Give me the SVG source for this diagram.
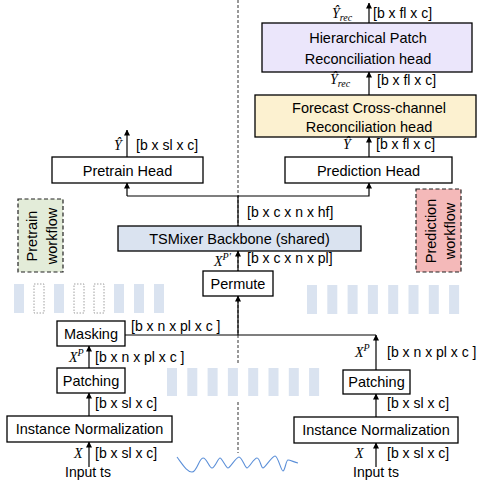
<svg xmlns="http://www.w3.org/2000/svg" width="477" height="485" viewBox="0 0 477 485">
<defs>
<marker id="ah" markerWidth="6" markerHeight="6" refX="5.5" refY="3" orient="auto" markerUnits="userSpaceOnUse">
<path d="M0,0 L6,3 L0,6 z" fill="#000"/>
</marker>
<style>
.box{stroke:#000;stroke-width:1.3;fill:#fff}
.t{font-family:"Liberation Sans",Arial,sans-serif;font-size:14.5px;fill:#000;text-anchor:middle}
.l{font-family:"Liberation Sans",Arial,sans-serif;font-size:14px;fill:#000}
.m{font-family:"Liberation Serif","Times New Roman",serif;font-style:italic;font-size:14px;fill:#000}
.c{stroke:#000;stroke-width:1.2;fill:none}
.ca{stroke:#000;stroke-width:1.2;fill:none;marker-end:url(#ah)}
.st{fill:#dae3f0}
.sd{fill:#fff;stroke:#888;stroke-width:0.8;stroke-dasharray:1.5,1.5}
.wf{stroke:#222;stroke-width:1.2;stroke-dasharray:4,2.5}
</style>
</defs>
<rect width="477" height="485" fill="#fff"/>

<g id="divider">
<line x1="238" y1="0" x2="238" y2="364" stroke="#333" stroke-width="1" stroke-dasharray="3,2"/>
<line x1="238" y1="402" x2="238" y2="453" stroke="#333" stroke-width="1" stroke-dasharray="3,2"/>
</g>

<g id="stripes-left">
<rect class="st" x="14" y="284" width="10" height="29"/>
<rect class="sd" x="34" y="284" width="10" height="29"/>
<rect class="st" x="54" y="284" width="10" height="29"/>
<rect class="sd" x="74" y="284" width="10" height="29"/>
<rect class="sd" x="94" y="284" width="10" height="29"/>
<rect class="st" x="114" y="284" width="10" height="29"/>
<rect class="st" x="134" y="284" width="10" height="29"/>
<rect class="st" x="154" y="284" width="10" height="29"/>
</g>
<g id="stripes-right">
<rect class="st" x="307" y="285" width="10" height="29"/>
<rect class="st" x="327.3" y="285" width="10" height="29"/>
<rect class="st" x="347.6" y="285" width="10" height="29"/>
<rect class="st" x="367.9" y="285" width="10" height="29"/>
<rect class="st" x="388.2" y="285" width="10" height="29"/>
<rect class="st" x="408.5" y="285" width="10" height="29"/>
<rect class="st" x="428.8" y="285" width="10" height="29"/>
<rect class="st" x="449.1" y="285" width="10" height="29"/>
</g>
<g id="stripes-middle">
<rect class="st" x="167" y="368" width="10" height="28"/>
<rect class="st" x="187.3" y="368" width="10" height="28"/>
<rect class="st" x="207.6" y="368" width="10" height="28"/>
<rect class="st" x="227.9" y="368" width="10" height="28"/>
<rect class="st" x="248.2" y="368" width="10" height="28"/>
<rect class="st" x="268.5" y="368" width="10" height="28"/>
<rect class="st" x="288.8" y="368" width="10" height="28"/>
<rect class="st" x="309.1" y="368" width="10" height="28"/>
</g>

<g id="wave">
<path d="M177,457 C183,465 187,472 192,472 S199,458 203,458 S209,468 212,468 S218,458 220,458 S226,468 228,468 S236,457 239,457 S245,468 247,468 S254,458 257,458 S261,468 263,468 S272,456 275,456 S281,471 283,471 S286,460 288,460 S294,462 298,463" fill="none" stroke="#5b8fd8" stroke-width="1.1"/>
</g>

<g id="connectors">
<line class="ca" x1="369" y1="23" x2="369" y2="3"/>
<line class="ca" x1="369" y1="95" x2="369" y2="72"/>
<line class="ca" x1="369" y1="157" x2="369" y2="137"/>
<line class="ca" x1="127" y1="157" x2="127" y2="130"/>
<polyline class="c" points="238,226 238,196 127,196"/>
<line class="ca" x1="127" y1="196" x2="127" y2="183"/>
<polyline class="ca" points="238,196 369,196 369,183"/>
<line class="ca" x1="238" y1="271" x2="238" y2="251"/>
<line class="ca" x1="238" y1="335" x2="238" y2="296"/>
<line class="c" x1="125" y1="335" x2="376" y2="335"/>
<line class="ca" x1="376" y1="370" x2="376" y2="335"/>
<line class="ca" x1="89" y1="368" x2="89" y2="346"/>
<line class="ca" x1="89" y1="416" x2="89" y2="393"/>
<line class="ca" x1="89" y1="467" x2="89" y2="442"/>
<line class="ca" x1="376" y1="417" x2="376" y2="394"/>
<line class="ca" x1="376" y1="467" x2="376" y2="443"/>
</g>

<g id="hierarchical-head">
<rect class="box" x="262" y="23" width="210" height="49" fill="#ebe6fb" style="fill:#ebe6fb"/>
<text class="t" x="368" y="43">Hierarchical Patch</text>
<text class="t" x="368" y="64">Reconciliation head</text>
</g>
<g id="forecast-head">
<rect class="box" x="255" y="95" width="221" height="42" style="fill:#fcf1d0"/>
<text class="t" x="369" y="113">Forecast Cross-channel</text>
<text class="t" x="369" y="132">Reconciliation head</text>
</g>
<g id="prediction-head">
<rect class="box" x="285" y="157" width="167" height="26"/>
<text class="t" x="368.5" y="175.5">Prediction Head</text>
</g>
<g id="pretrain-head">
<rect class="box" x="52" y="157" width="151" height="26"/>
<text class="t" x="127.5" y="175.5">Pretrain Head</text>
</g>
<g id="backbone">
<rect class="box" x="118" y="226" width="243" height="25" style="fill:#dae3f0"/>
<text class="t" x="239.5" y="244">TSMixer Backbone (shared)</text>
</g>
<g id="permute">
<rect class="box" x="203" y="271" width="70" height="25"/>
<text class="t" x="238" y="289">Permute</text>
</g>
<g id="masking">
<rect class="box" x="57" y="321" width="68" height="25"/>
<text class="t" x="91" y="339">Masking</text>
</g>
<g id="patching-left">
<rect class="box" x="57" y="368" width="68" height="25"/>
<text class="t" x="91" y="386">Patching</text>
</g>
<g id="instnorm-left">
<rect class="box" x="7" y="416" width="165" height="26"/>
<text class="t" x="89.5" y="434">Instance Normalization</text>
</g>
<g id="patching-right">
<rect class="box" x="343" y="370" width="67" height="24"/>
<text class="t" x="376.5" y="387">Patching</text>
</g>
<g id="instnorm-right">
<rect class="box" x="294" y="417" width="164" height="26"/>
<text class="t" x="376" y="435">Instance Normalization</text>
</g>
<g id="pretrain-workflow">
<rect class="wf" x="18" y="199" width="45" height="73" fill="#e3ecd9"/>
<text class="t" transform="translate(40.5,236) rotate(-90)"><tspan x="0" y="-3.5">Pretrain</tspan><tspan x="0" y="16">workflow</tspan></text>
</g>
<g id="prediction-workflow">
<rect class="wf" x="416" y="189" width="45" height="83" fill="#f4b9b9"/>
<text class="t" transform="translate(438.5,231) rotate(-90)"><tspan x="0" y="-2.5">Prediction</tspan><tspan x="0" y="16.5">workflow</tspan></text>
</g>

<g id="labels">
<text class="m" x="332" y="18">Ŷ<tspan font-size="10" dy="3">rec</tspan></text>
<text class="l" x="373" y="18">[b x fl x c]</text>
<text class="m" x="330" y="84">Ŷ<tspan font-size="10" dy="3">rec</tspan></text>
<text class="l" x="377" y="85">[b x fl x c]</text>
<text class="m" x="343" y="149">Ŷ</text>
<text class="l" x="376" y="149">[b x fl x c]</text>
<text class="m" x="114" y="150">Ŷ</text>
<text class="l" x="136" y="150">[b x sl x c]</text>
<text class="l" x="247" y="217">[b x c x n x hf]</text>
<text class="m" x="214" y="266">X<tspan font-size="10" dy="-6">P′</tspan></text>
<text class="l" x="247" y="263">[b x c x n x pl]</text>
<text class="l" x="131" y="331">[b x n x pl x c ]</text>
<text class="m" x="69" y="362">X<tspan font-size="10" dy="-6">P</tspan></text>
<text class="l" x="95" y="362">[b x n x pl x c ]</text>
<text class="l" x="95" y="408">[b x sl x c]</text>
<text class="m" x="74" y="458">X</text>
<text class="l" x="95" y="458">[b x sl x c]</text>
<text class="l" x="65" y="477">Input ts</text>
<text class="m" x="355" y="357">X<tspan font-size="10" dy="-6">P</tspan></text>
<text class="l" x="387" y="357">[b x n x pl x c ]</text>
<text class="l" x="387" y="408">[b x sl x c]</text>
<text class="m" x="355" y="458">X</text>
<text class="l" x="387" y="458">[b x sl x c]</text>
<text class="l" x="353" y="477">Input ts</text>
</g>
</svg>
